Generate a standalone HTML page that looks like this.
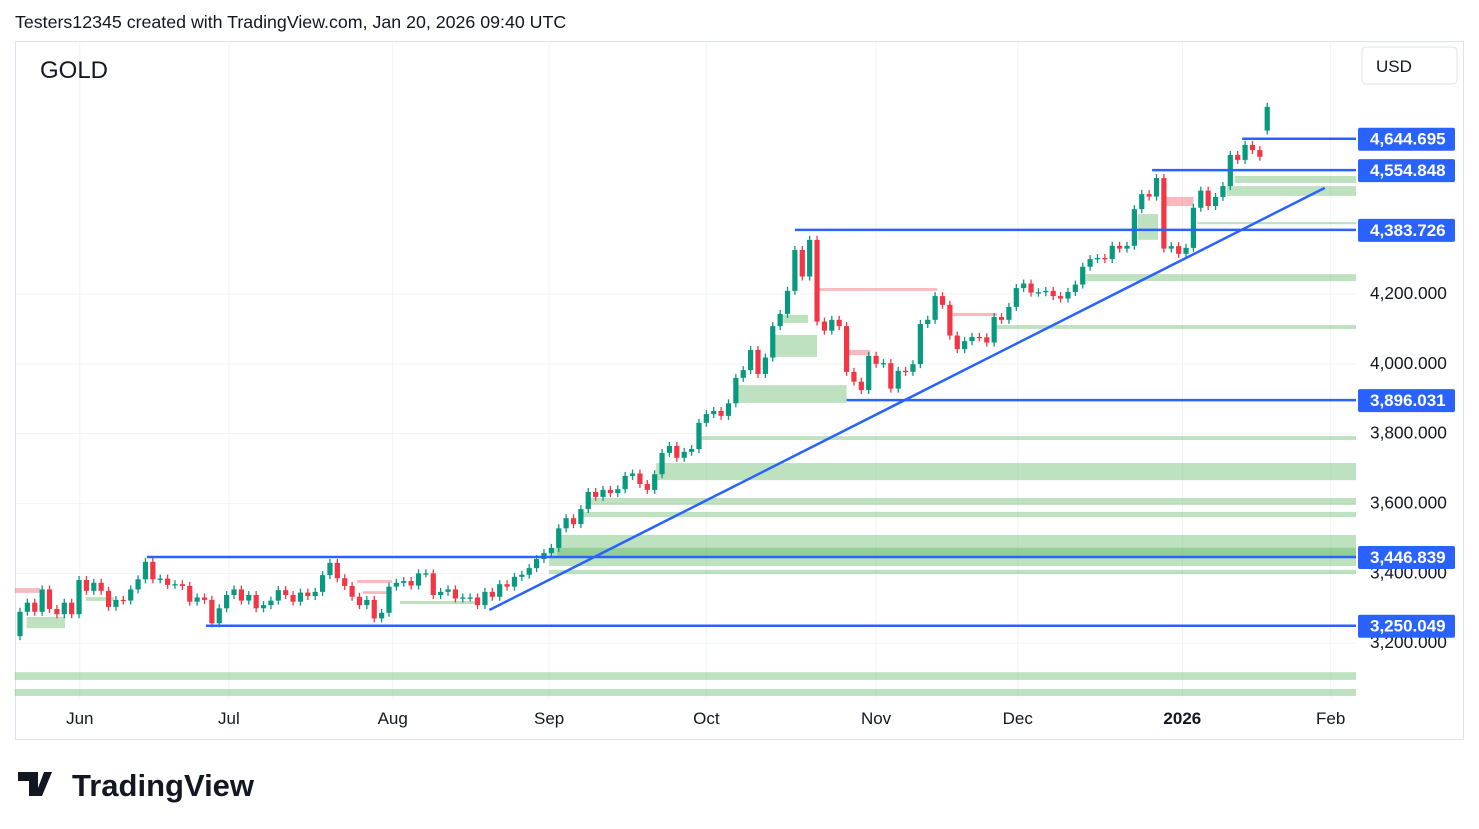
<!DOCTYPE html>
<html><head><meta charset="utf-8"><style>
body{margin:0;background:#fff;font-family:"Liberation Sans",sans-serif}
svg{display:block}
text{font-family:"Liberation Sans",sans-serif}
</style></head><body>
<svg id="c" width="1479" height="829">
<text x="15" y="28" font-size="17.8" fill="#131722">Testers12345 created with TradingView.com, Jan 20, 2026 09:40 UTC</text>
<rect x="15.5" y="41.5" width="1448" height="698" fill="none" stroke="#e0e3eb"/>
<g id="grid"></g><g id="zones"></g><g id="candles"></g><g id="lines"></g><g id="axis"></g>
<text x="40" y="78" font-size="24" fill="#131722">GOLD</text>
<rect x="1362" y="47" width="95" height="37" rx="4" fill="#fff" stroke="#e0e3eb"/>
<text x="1376" y="72" font-size="17" fill="#131722">USD</text>
<g>
<path d="M18 772h20v24h-9v-15h-11z M44 772h8l-10 24h-7z" fill="#131722"/>
<text x="72" y="796" font-size="31" font-weight="bold" fill="#131722">TradingView</text>
</g>
</svg>
<script>
const closes=[3290,3316,3290,3354,3298,3283,3316,3283,3381,3350,3373,3350,3304,3324,3322,3354,3383,3433,3383,3385,3367,3369,3364,3319,3331,3324,3257,3300,3338,3354,3322,3338,3300,3309,3322,3352,3338,3319,3345,3335,3347,3395,3430,3386,3364,3333,3309,3324,3271,3287,3362,3373,3378,3365,3400,3400,3338,3347,3354,3328,3331,3331,3309,3347,3333,3369,3362,3390,3396,3415,3441,3458,3473,
3529,3558,3541,3584,3633,3619,3639,3630,3641,3679,3686,3656,3639,3684,3745,3765,3731,3748,3756,3831,3856,3865,3851,3887,3960,3982,4040,3971,4018,4108,4143,4209,4326,4250,4355,4121,4095,4126,4108,3977,3949,3925,4023,4000,4002,
3929,3980,3977,3999,4114,4126,4194,4169,4081,4042,4065,4077,4076,4061,4134,4126,4163,4217,4230,4204,4205,4209,4194,4187,4206,4227,4278,4300,4303,4300,4338,4330,4338,4443,4486,4479,4532,4330,4337,4315,4332,4447,4496,4452,4478,4509,4598,4584,4627,4612,4593,4736];
const firstOpen=3220;
const lastOpen=4668;
const levelPrices=[3446.839,3250.049,3896.031,4383.726,4554.848,4644.695];
const levelStartBars=[17.2,25.2,112,105,153.4,165.6];
const levelLabels=["3,446.839","3,250.049","3,896.031","4,383.726","4,554.848","4,644.695"];
const greenZones=[[-0.7,3117,3095],[-0.7,3069,3049],[72.8,3510,3450],[71.7,3473,3421],[71.7,3410,3398],[75.7,3576,3561],[76.7,3616,3596],[86.2,3716,3667],[91.9,3793,3782],[132.2,4111,4100],[144.4,4257,4237],[159.5,4406,4400],[163.5,4509,4481],[164.6,4538,4518]];
const greenBoxes=[[97,112,3939,3888],[102,108,4083,4020],[103,106.8,4140,4117],[151.5,154.2,4429,4355],[0.9,6.1,3275,3243],[8.9,12.7,3332,3321],[51.5,62.3,3321,3312]];
const pinkBoxes=[[-0.7,2.7,3358,3344],[108,124.3,4217,4209],[112.2,115.2,4040,4025],[126.4,132.4,4146,4137],[155.3,159,4478,4452],[45.7,50.4,3381,3372],[46.5,50.4,3349,3341]];
const trendBars=[63.6,176.8];
const trendPrices=[3295,4504];
const priceTicks=[3200,3400,3600,3800,4000,4200];
const priceTickLabels=["3,200.000","3,400.000","3,600.000","3,800.000","4,000.000","4,200.000"];
const monthLabels=["Jun","Jul","Aug","Sep","Oct","Nov","Dec","2026","Feb"];
const monthBars=[8.1,28.3,50.5,71.7,93,116,135.2,157.5,177.6];

const NS="http://www.w3.org/2000/svg";
const X0=20,DX=7.38,RIGHT=1356;
const xb=b=>X0+b*DX;
const yp=p=>294+(4200-p)*0.3492;
function mk(tag,attrs,parent){const e=document.createElementNS(NS,tag);for(const k in attrs)e.setAttribute(k,attrs[k]);document.getElementById(parent).appendChild(e);return e;}

priceTicks.forEach((p,i)=>{
 const g=mk('line',{x1:16,x2:RIGHT,y1:yp(p),y2:yp(p),stroke:'#f0f3fa'},'grid');
 
 
 const t=mk('text',{x:1370,y:yp(p)+5,'font-size':17.3,fill:'#131722'},'axis');
 t.textContent=priceTickLabels[i];
 
 
});
monthLabels.forEach((m,i)=>{
 const g=mk('line',{x1:xb(monthBars[i]),x2:xb(monthBars[i]),y1:42,y2:700,stroke:'#f0f3fa'},'grid');
 
 
 const t=mk('text',{x:xb(monthBars[i]),y:724,'font-size':17,fill:'#131722','text-anchor':'middle','font-weight':m==='2026'?'bold':'normal'},'axis');
 t.textContent=m;
 
 
});
greenZones.forEach(z=>{
 const r=mk('rect',{x:xb(z[0]),y:yp(z[1]),width:RIGHT-xb(z[0]),height:yp(z[2])-yp(z[1]),fill:'rgba(76,175,80,0.36)'},'zones');
 
 
});
greenBoxes.forEach(z=>{
 const r=mk('rect',{x:xb(z[0]),y:yp(z[2]),width:xb(z[1])-xb(z[0]),height:yp(z[3])-yp(z[2]),fill:'rgba(76,175,80,0.36)'},'zones');
 
 
});
pinkBoxes.forEach(z=>{
 const r=mk('rect',{x:xb(z[0]),y:yp(z[2]),width:xb(z[1])-xb(z[0]),height:yp(z[3])-yp(z[2]),fill:'rgba(242,54,69,0.35)'},'zones');
 
 
});
closes.forEach((c,i)=>{
 let o=i===0?firstOpen:closes[i-1];
 if(i===closes.length-1)o=lastOpen;
 const up=c>=o,col=up?'#089981':'#f23645',x=xb(i);
 const top=yp(Math.max(o,c)),bot=yp(Math.min(o,c));
 const w=mk('line',{x1:x,x2:x,y1:top-4,y2:bot+4,stroke:col,'stroke-width':1.3},'candles');
 
 
 const b=mk('rect',{x:x-2.6,y:top,width:5.2,height:Math.max(1.3,bot-top),fill:col},'candles');
 
 
});
const tl=mk('line',{x1:xb(trendBars[0]),y1:yp(trendPrices[0]),x2:xb(trendBars[1]),y2:yp(trendPrices[1]),stroke:'#2962ff','stroke-width':2.5},'lines');


levelPrices.forEach((p,i)=>{
 const l=mk('line',{x1:xb(levelStartBars[i]),x2:RIGHT,y1:yp(p),y2:yp(p),stroke:'#2962ff','stroke-width':2.5},'lines');
 
 
 const r=mk('rect',{x:1358,y:yp(p)-11,width:97,height:23,rx:2,fill:'#2962ff'},'axis');
 
 
 const t=mk('text',{x:1370,y:yp(p)+6,'font-size':17,'font-weight':'bold',fill:'#fff'},'axis');
 t.textContent=levelLabels[i];
 
 
});
</script>
</body></html>
